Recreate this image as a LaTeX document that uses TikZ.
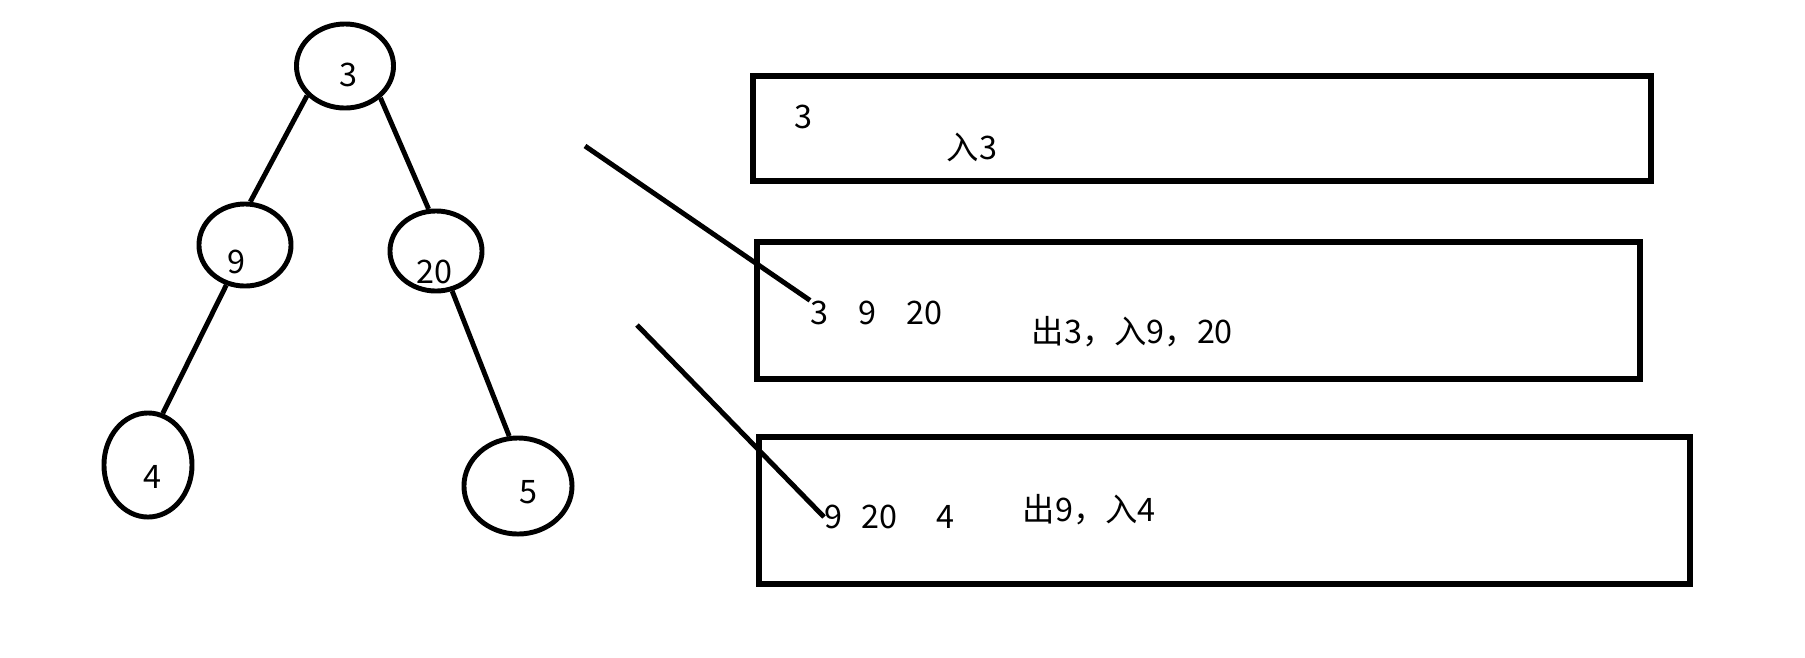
\documentclass[tikz,border=0pt]{standalone}
\usepackage{fontspec}
\setmainfont{Noto Sans CJK SC}
\usetikzlibrary{shapes.geometric,positioning}

\tikzset{
  ell/.style={draw,ellipse,line width=1.4pt,inner sep=0pt},
  num/.style={inner sep=0pt,font=\fontsize{9.2}{11}\selectfont},
  txt/.style={inner sep=0pt,anchor=west,font=\fontsize{9.2}{11}\selectfont},
  edge/.style={line width=1.4pt},
  box/.style={line width=1.6pt},
}

\begin{document}
\begin{tikzpicture}[x=0.01cm,y=-0.01cm]
    \useasboundingbox (0,0) rectangle (1805,657);

    \node[ell,minimum width=0.97cm,minimum height=0.84cm] (n3) at (345,66) {};
    \node[num] (l3) at (348,75) {3};
    \node[ell,minimum width=0.92cm,minimum height=0.82cm] (n9) at (245,245) {};
    \node[num] (l9) at (236,262) {9};
    \node[ell,minimum width=0.92cm,minimum height=0.80cm] (n20) at (436,251) {};
    \node[num] (l20) at (434,272) {20};
    \node[ell,minimum width=0.88cm,minimum height=1.04cm] (n4) at (148,465) {};
    \node[num] (l4) at (152,477) {4};
    \node[ell,minimum width=1.08cm,minimum height=0.96cm] (n5) at (518,486) {};
    \node[num] (l5) at (528,492) {5};

    \draw[edge] (n3.218) -- (n9.83);
    \draw[edge] (n3.-42) -- (n20.100);
    \draw[edge] (n9.245) -- (n4.74);
    \draw[edge] (n20.292) -- (n5.100);

    \draw[box] (753,76) rectangle (1651,181);
    \node[txt] (a1) at (794,117) {3};
    \node[txt] (b1) at (946,147) {入3};

    \draw[box] (757,242) rectangle (1640,379);
    \node[txt] (a2) at (810,313) {3\hspace{0.3cm}9\hspace{0.3cm}20};
    \node[txt] (b2) at (1031,332) {出3，入9，20};

    \draw[box] (759,437) rectangle (1690,584);
    \node[txt] (a3) at (824,517) {9\hspace{0.19cm}20\hspace{0.39cm}4};
    \node[txt] (b3) at (1022,510) {出9，入4};

    \coordinate (s2) at (585,146);
    \coordinate (s3) at (637,325);
    \draw[edge] (s2) -- (a2.north west);
    \draw[edge] (s3) -- (a3.west);
\end{tikzpicture}
\end{document}
